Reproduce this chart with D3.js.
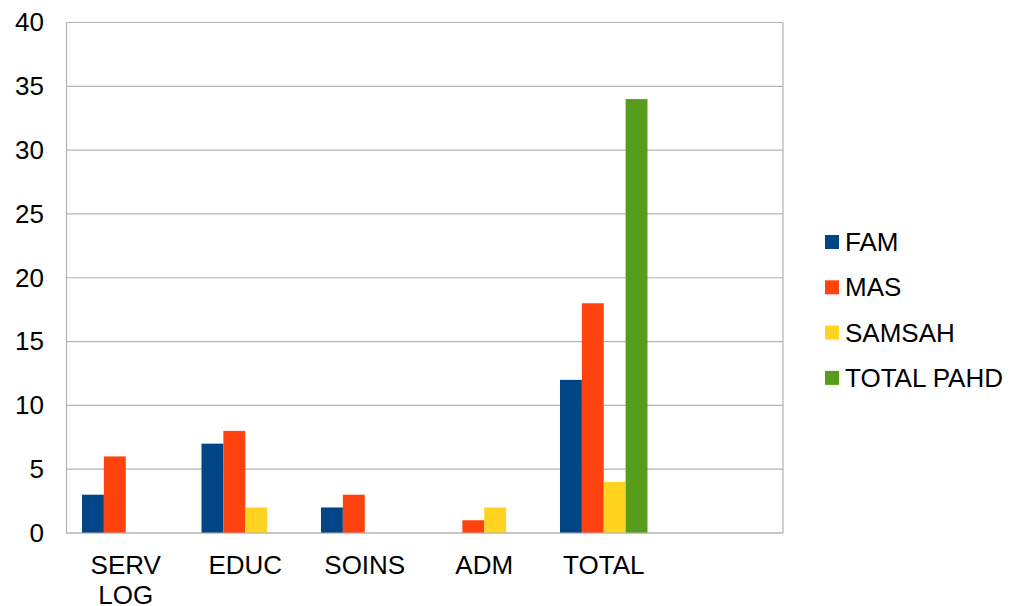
<!DOCTYPE html>
<html>
<head>
<meta charset="utf-8">
<script src="https://cdn.jsdelivr.net/npm/d3@7"></script>
<style>
  body { margin: 0; background: #fff; }
  text { font-family: "Liberation Sans", Arial, sans-serif; fill: #000; }
</style>
</head>
<body>
<div id="chart"></div>
<script>
//categories (the last one is empty in the original chart)
var categories = ["SERV LOG", "EDUC", "SOINS", "ADM", "TOTAL", ""];
var seriesNames = ["FAM", "MAS", "SAMSAH", "TOTAL PAHD"];
var famValues = [3, 7, 2, 0, 12, null];
var masValues = [6, 8, 3, 1, 18, null];
var samsahValues = [0, 2, 0, 2, 4, null];
var pahdValues = [0, 0, 0, 0, 34, null];
var yTicks = [0, 5, 10, 15, 20, 25, 30, 35, 40];
var colors = ["#004586", "#ff420e", "#ffd320", "#579d1c"];

var widthSVG = 1012;
var heightSVG = 606;
var plotLeft = 66, plotRight = 783, plotTop = 22.5, plotBottom = 533;
var fontSize = "26px";

var seriesValues = [famValues, masValues, samsahValues, pahdValues];

var svg = d3.select("#chart").append("svg")
  .attr("width", widthSVG)
  .attr("height", heightSVG);

//scales
var xScale = d3.scaleBand().domain(d3.range(categories.length)).range([plotLeft, plotRight]);
var inner = d3.scaleBand().domain(d3.range(seriesNames.length))
  .range([16, xScale.bandwidth() - 16]);
var yScale = d3.scaleLinear().domain([0, 40]).range([plotBottom, plotTop]);

//gridlines
svg.append("g").selectAll("line").data(yTicks).enter().append("line")
  .attr("x1", plotLeft).attr("x2", plotRight)
  .attr("y1", function(d) { return yScale(d); })
  .attr("y2", function(d) { return yScale(d); })
  .attr("stroke", "#b3b3b3").attr("stroke-width", 1.2);

//right border of plot area
svg.append("line")
  .attr("x1", plotRight).attr("x2", plotRight).attr("y1", plotTop).attr("y2", plotBottom)
  .attr("stroke", "#b3b3b3").attr("stroke-width", 1.2);

//bars
seriesValues.forEach(function(vals, s) {
  svg.append("g").selectAll("rect")
    .data(vals.map(function(v, i) { return {i: i, v: v}; }).filter(function(d) { return d.v; }))
    .enter().append("rect")
    .attr("x", function(d) { return xScale(d.i) + inner(s); })
    .attr("width", inner.bandwidth())
    .attr("y", function(d) { return yScale(d.v); })
    .attr("height", function(d) { return yScale(0) - yScale(d.v); })
    .attr("fill", colors[s]);
});

//y axis
var yAxis = d3.axisLeft(yScale).tickValues(yTicks).tickSize(0).tickPadding(22);
var gy = svg.append("g").attr("transform", "translate(" + plotLeft + ",0)").call(yAxis);
gy.select(".domain").attr("stroke", "#b3b3b3").attr("stroke-width", 1.2);
gy.selectAll("text").style("font-size", fontSize).attr("font-family", null).attr("fill", "#000");

//x axis line
svg.append("line")
  .attr("x1", plotLeft).attr("x2", plotRight).attr("y1", plotBottom).attr("y2", plotBottom)
  .attr("stroke", "#b3b3b3").attr("stroke-width", 1.2);

//category labels, split on spaces
svg.append("g").selectAll("text").data(categories).enter().append("text")
  .attr("text-anchor", "middle")
  .style("font-size", fontSize)
  .attr("transform", function(d, i) { return "translate(" + (xScale(i) + xScale.bandwidth() / 2) + ",574)"; })
  .each(function(d) {
    var words = d.split(" ");
    var t = d3.select(this);
    words.forEach(function(w, k) {
      t.append("tspan").attr("x", 0).attr("y", k * 30).text(w);
    });
  });

//legend
var legend = svg.append("g").attr("transform", "translate(825,235)")
  .selectAll(".legendas").data(seriesNames).enter().append("g")
  .attr("transform", function(d, i) { return "translate(0," + (i * 45.3) + ")"; });
legend.append("rect").attr("width", 14).attr("height", 14)
  .attr("fill", function(d, i) { return colors[i]; });
legend.append("text").attr("x", 20).attr("y", 16)
  .style("font-size", fontSize)
  .text(function(d) { return d; });
</script>
</body>
</html>
